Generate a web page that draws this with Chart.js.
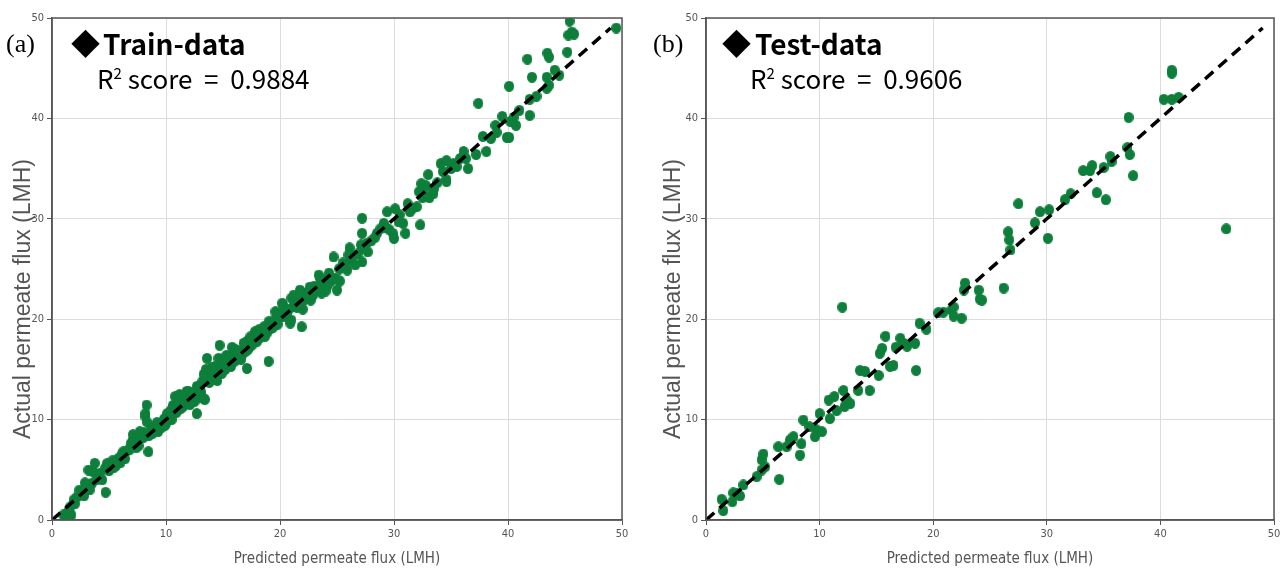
<!DOCTYPE html>
<html>
<head>
<meta charset="utf-8">
<script src="https://cdn.jsdelivr.net/npm/chart.js@4.4.1/dist/chart.umd.min.js"></script>
<style>
  html, body { margin:0; padding:0; background:#fff; width:1286px; height:570px; overflow:hidden; }
  .panel { position:absolute; top:0; width:643px; height:570px; }
  .ann { position:absolute; white-space:pre; line-height:1; color:#000; }
  .lab { font-family:"Liberation Serif", serif; font-size:26px; }
  .dia { font-family:"Noto Sans CJK KR", sans-serif; font-size:29px; }
  .ttl { font-family:"Noto Sans CJK KR", sans-serif; font-size:28px; font-weight:bold; }
  .r2 { font-family:"Noto Sans CJK KR", sans-serif; font-size:26px; }
  .r2 sup { font-size:15px; vertical-align:0; position:relative; top:-10px; }
  .ytitle { position:absolute; width:320px; height:26px; line-height:26px; text-align:center;
            font-family:"Liberation Sans", Arial, sans-serif; font-size:23px; color:#555;
            transform:rotate(-90deg); transform-origin:50% 50%; white-space:nowrap; }
</style>
</head>
<body>
<div class="panel" style="left:0"><canvas id="c1" width="643" height="570"></canvas></div>
<div class="panel" style="left:643px"><canvas id="c2" width="643" height="570"></canvas></div>

<div class="ytitle" style="left:-138px; top:286px;">Actual permeate flux (LMH)</div>
<div class="ytitle" style="left:512px; top:286px;">Actual permeate flux (LMH)</div>

<div class="ann lab" style="left:6px; top:31px;">(a)</div>
<div class="ann dia" style="left:71px; top:28px;">◆</div>
<div class="ann ttl" style="left:103px; top:29px;">Train-data</div>
<div class="ann r2" style="left:97px; top:65px;">R<sup>2</sup> score  =  0.9884</div>

<div class="ann lab" style="left:653px; top:31px;">(b)</div>
<div class="ann dia" style="left:722px; top:28px;">◆</div>
<div class="ann ttl" style="left:755px; top:29px;">Test-data</div>
<div class="ann r2" style="left:750px; top:65px;">R<sup>2</sup> score  =  0.9606</div>

<script>
// ---------- DATA ----------
const axisTicks = [0, 10, 20, 30, 40, 50];
const idealX = [0, 49];
const idealY = [0, 49];

const trainPredicted = [
 1.0,1.3,1.7,1.6,1.9,2.2,2.4,2.6,3.0,3.2,3.5,3.6,3.75,3.9,4.2,4.65,4.7,5.1,5.7,6.25,6.9,7.1,7.1,7.7,7.7,
 1.5,2.0,2.8,3.3,4.0,4.4,5.0,5.4,5.9,6.4,6.6,7.4,2.9,4.8,6.0,
 8.2,8.2,8.3,8.3,8.45,8.7,8.9,9.3,9.5,9.8,9.9,10.0,10.1,10.6,10.8,10.9,11.1,11.2,11.5,11.5,11.7,11.8,12.0,12.5,12.5,12.7,12.7,
 8.0,8.5,9.0,9.6,10.3,10.5,11.0,11.3,12.2,12.9,9.2,10.7,
 13.2,13.3,13.3,13.4,13.5,13.6,13.6,13.9,14.3,14.6,14.7,15.0,15.3,15.8,15.9,16.2,16.5,16.9,17.1,17.1,17.4,17.4,17.8,17.8,17.9,18.5,18.6,18.8,19.0,19.0,19.1,19.2,19.6,19.6,19.7,
 13.8,14.1,14.4,14.9,15.2,15.5,15.7,16.0,16.4,16.7,17.0,17.6,18.0,18.3,18.9,14.0,15.4,16.8,18.2,19.4,16.1,14.8,
 20.0,20.2,20.3,20.3,20.6,20.6,20.9,21.0,21.0,21.2,21.2,21.75,21.9,21.9,22.5,22.6,22.9,23.4,23.5,23.65,24.1,24.4,24.7,24.8,25.0,25.1,25.25,25.3,25.9,26.1,26.2,26.6,27.1,27.2,27.2,27.2,27.6,27.7,
 20.5,21.5,22.2,23.0,23.8,24.3,25.5,26.4,22.0,24.0,
 28.5,29.1,29.4,29.6,29.9,30.0,30.1,30.4,30.8,31.0,31.4,32.0,32.2,32.3,32.4,32.6,32.8,33.0,33.1,33.45,33.45,34.1,34.6,34.6,34.6,35.0,35.2,
 28.8,31.2,33.8,
 35.8,36.1,36.5,37.2,37.4,37.8,38.1,38.5,38.9,39.9,40.1,40.1,40.2,40.7,41.0,41.7,41.9,41.9,42.1,43.4,43.4,43.45,43.6,43.6,44.1,45.2,45.3,45.4,45.6,45.8,49.5,
 5.3,5.6,6.1,6.8,7.2,7.6,8.1,8.8,9.4,9.9,10.4,11.6,12.1,12.4,13.0,13.1,14.2,14.5,15.1,15.6,16.3,16.6,17.2,17.5,18.1,18.7,19.3,19.8,
 20.1,20.8,21.3,21.7,22.3,22.7,23.2,23.6,24.2,24.6,25.2,25.7,26.0,26.8,27.4,28.0,28.3,29.3,30.5,31.6,32.5,33.5,34.3,35.5,36.3,39.0,39.5,40.5,42.5,44.5
];
const trainActual = [
 0.5,0.67,0.5,1.3,2.0,2.3,2.98,2.66,3.3,4.98,3.65,4.8,5.65,4.0,4.65,5.15,2.76,5.65,5.98,6.8,7.6,8.0,8.5,8.5,8.8,
 1.0,1.6,2.4,3.0,4.3,4.0,4.9,5.2,6.2,6.1,6.9,7.2,3.7,5.6,5.7,
 10.6,10.3,11.45,9.8,6.8,9.3,9.1,8.8,9.6,10.0,10.1,9.6,10.6,11.4,12.3,10.7,11.7,12.5,11.7,11.3,12.3,12.8,12.8,11.8,12.0,10.6,13.3,
 8.2,8.4,8.9,9.2,10.2,10.0,10.9,11.1,12.1,12.6,9.7,11.0,
 13.8,12.1,14.5,12.0,15.0,14.2,16.1,14.8,15.3,16.1,17.4,15.5,16.4,17.2,16.6,16.0,16.8,17.3,17.8,15.1,18.25,17.3,17.9,18.75,18.6,18.8,19.25,19.25,19.75,15.8,19.6,19.1,20.75,20.1,20.1,
 13.7,14.0,14.3,14.6,15.0,15.6,15.3,15.8,16.2,16.5,16.8,17.5,17.8,18.2,18.7,15.2,16.0,17.6,19.0,19.2,17.0,15.0,
 20.3,21.6,21.4,20.3,20.7,20.3,19.6,22.1,19.9,21.3,22.4,22.9,21.9,19.25,22.7,23.2,22.4,24.4,24.1,22.6,23.2,23.7,26.2,24.1,22.9,23.9,23.8,25.1,24.9,27.1,25.9,25.4,27.4,30.05,28.55,25.7,27.55,26.7,
 20.9,21.2,22.0,23.3,23.5,24.6,25.6,26.3,21.0,22.8,
 28.55,29.55,30.7,28.9,28.55,28.05,31.0,29.7,29.55,28.55,30.7,31.2,32.7,29.4,33.5,32.5,33.3,34.4,32.1,32.7,32.5,35.5,35.8,33.9,33.7,35.0,35.5,
 29.0,31.5,33.6,
 36.0,36.7,35.0,36.4,41.5,38.2,36.7,38.0,39.3,38.1,38.1,43.2,39.7,39.3,40.8,45.9,41.9,40.3,44.1,44.1,43.0,46.5,46.1,43.3,44.8,46.6,48.3,49.7,48.6,48.4,49.0,
 5.9,5.4,6.5,7.0,7.7,7.4,8.7,8.6,9.1,9.4,10.9,12.0,11.5,12.6,13.2,12.7,14.6,13.9,15.8,15.9,16.6,16.0,17.0,18.0,18.4,18.3,19.6,19.5,
 20.6,21.0,21.8,21.5,22.6,21.9,23.0,23.9,24.1,24.0,25.0,25.3,26.4,26.5,27.0,27.8,28.1,29.1,30.4,31.0,32.1,33.0,34.7,35.2,36.0,38.6,40.2,40.1,42.2,44.3
];

const testPredicted = [
 1.38,1.52,2.32,2.4,2.7,2.99,3.29,4.46,4.9,4.9,5.05,5.2,6.45,6.37,7.1,7.39,7.7,8.27,8.4,8.57,9.1,9.6,9.7,10.2,10.0,10.9,10.8,11.3,11.5,12.0,
 12.1,12.2,12.4,12.7,13.4,13.56,14.0,14.4,15.2,15.3,15.5,15.8,16.2,16.5,16.7,17.1,17.4,17.7,18.4,18.5,18.8,19.4,20.45,20.9,21.6,21.8,21.8,22.5,22.7,22.8,
 24.0,24.1,24.3,26.2,26.6,26.7,26.8,27.5,28.96,29.4,30.1,30.2,31.6,32.1,33.2,33.8,34.0,34.4,35.0,35.2,35.6,35.7,37.1,37.2,37.3,37.6,40.3,41.0,41.0,41.0,41.6,45.8
];
const testActual = [
 2.06,0.93,1.82,2.7,2.66,2.4,3.49,4.32,4.98,6.0,6.57,5.3,4.05,7.3,7.3,7.97,8.3,6.47,7.6,9.96,9.3,8.3,9.0,8.8,10.6,10.1,11.95,12.3,10.9,21.2,
 12.9,11.3,11.95,11.6,12.9,14.9,14.8,12.9,14.4,16.6,17.1,18.3,15.3,15.4,17.2,18.1,17.6,17.3,17.6,14.9,19.6,19.0,20.65,20.7,20.9,21.2,20.3,20.1,22.9,23.6,
 22.9,22.0,21.9,23.1,28.7,27.9,26.9,31.5,29.6,30.7,28.06,30.9,31.9,32.5,34.8,34.8,35.3,32.6,35.1,31.9,36.2,35.7,37.1,40.1,36.4,34.3,41.9,44.8,44.5,41.9,42.1,29.0
];

// ---------- STYLE ----------
const GREEN = '#0d7f3b';
function makeDot() {
  const c = document.createElement('canvas');
  c.width = 10; c.height = 11;
  const g = c.getContext('2d');
  g.fillStyle = GREEN;
  g.beginPath();
  g.ellipse(5, 5.5, 5, 5.5, 0, 0, Math.PI * 2);
  g.fill();
  return c;
}
const dot = makeDot();

const frame = {
  id: 'frame',
  afterDraw(chart) {
    const {ctx, chartArea: a} = chart;
    ctx.save();
    ctx.strokeStyle = '#555';
    ctx.lineWidth = 1.5;
    ctx.strokeRect(a.left, a.top, a.right - a.left, a.bottom - a.top);
    ctx.restore();
  }
};

function pts(xs, ys) { return xs.map((x, i) => ({x: x, y: ys[i]})); }
const tickFont = { family: '"Liberation Sans Narrow", "DejaVu Sans Condensed", sans-serif', size: 11 };

function build(id, px, py, yAxisWidth, padRight) {
  return new Chart(document.getElementById(id), {
    type: 'scatter',
    data: {
      datasets: [
        {
          type: 'line',
          data: pts(idealX, idealY),
          borderColor: '#000',
          borderWidth: 3.5,
          borderDash: [11, 7],
          pointRadius: 0,
          fill: false,
          order: 0
        },
        {
          data: pts(px, py),
          pointStyle: dot,
          pointRadius: 5,
          backgroundColor: GREEN,
          borderWidth: 0,
          order: 1
        }
      ]
    },
    options: {
      responsive: false,
      animation: false,
      layout: { padding: { left: 0, right: padRight, top: 18, bottom: 0 } },
      plugins: { legend: { display: false }, tooltip: { enabled: false } },
      scales: {
        x: {
          type: 'linear', min: 0, max: 50,
          afterBuildTicks: s => { s.ticks = axisTicks.map(v => ({value: v})); },
          afterFit: s => { s.height = 50; },
          grid: { color: '#dcdcdc', lineWidth: 1, tickLength: 5, tickColor: '#555' },
          border: { display: true, color: '#555', width: 1.5 },
          ticks: { color: '#555', padding: 3, maxRotation: 0, font: tickFont },
          title: { display: true, text: 'Predicted permeate flux (LMH)', color: '#555',
                   padding: { top: 0, bottom: 2 },
                   font: { family: '"Liberation Sans Narrow", "DejaVu Sans Condensed", sans-serif', size: 15 } }
        },
        y: {
          type: 'linear', min: 0, max: 50,
          afterBuildTicks: s => { s.ticks = axisTicks.map(v => ({value: v})); },
          afterFit: s => { s.width = yAxisWidth; },
          grid: { color: '#dcdcdc', lineWidth: 1, tickLength: 5, tickColor: '#555' },
          border: { display: true, color: '#555', width: 1.5 },
          ticks: { color: '#555', padding: 3, font: tickFont },
          title: { display: false }
        }
      }
    },
    plugins: [frame]
  });
}

build('c1', trainPredicted, trainActual, 52, 21);
build('c2', testPredicted, testActual, 63, 12);
</script>
</body>
</html>
